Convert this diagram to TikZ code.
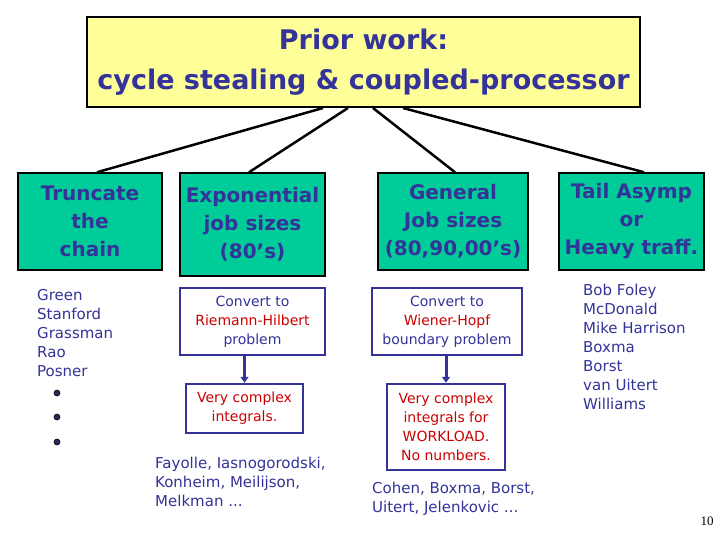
\documentclass[tikz,border=0pt]{standalone}
\usepackage{fontspec}
\setmainfont{DejaVu Sans}
\newfontfamily\pageNumFont{Liberation Serif}
\usepackage{tikz}
\usetikzlibrary{arrows.meta, positioning, calc}
\usepackage{xcolor}
\definecolor{slideBlue}{RGB}{51, 51, 153}
\definecolor{slideRed}{RGB}{204, 0, 0}
\definecolor{titleYellow}{RGB}{255, 255, 153}
\definecolor{topicTeal}{RGB}{0, 204, 153}
\definecolor{dotNavy}{RGB}{40, 40, 90}

\begin{document}
\begin{tikzpicture}[
        x=1pt, y=-1pt,
        titleNode/.style={rectangle, draw=black, fill=titleYellow, text=slideBlue, line width=2pt, minimum width=553pt, minimum height=90pt, align=center, font=\bfseries\fontsize{27}{40}\selectfont},
        topicBox/.style={rectangle, draw=black, fill=topicTeal, text=slideBlue, line width=1.5pt, minimum height=97pt, inner sep=0pt, align=center, font=\bfseries\fontsize{20}{28}\selectfont},
        convBox/.style={rectangle, draw=slideBlue, fill=white, text=slideBlue, line width=2.5pt, inner sep=0pt, align=center, font=\fontsize{14}{19}\selectfont},
        nameList/.style={anchor=north west, align=left, inner sep=0pt, text=slideBlue, font=\fontsize{15}{19}\selectfont},
        listDot/.style={circle, draw=black, fill=dotNavy, inner sep=0pt, minimum size=6pt, line width=0.6pt},
        connLine/.style={line width=2.5pt, black},
        flowArrow/.style={-{Triangle[length=6pt, width=8pt]}, line width=3pt, slideBlue}
    ]
        \useasboundingbox (0,0) rectangle (720,540);

        \node[titleNode] (title) at (363.5,62) {Prior work:\\cycle stealing \& coupled-processor};

        \node[topicBox, minimum width=144pt] (trunc) at (90,221.5) {Truncate\\the\\chain};
        \node[topicBox, minimum width=145pt, minimum height=103pt] (expo) at (252.5,224.5) {Exponential\\job sizes\\(80's)};
        \node[topicBox, minimum width=150pt] (general) at (453,221.5) {General\\Job sizes\\(80,90,00's)};
        \node[topicBox, minimum width=145pt] (tail) at (631.5,221.5) {Tail Asymp\\or\\Heavy traff.};

        \node[convBox, minimum width=145pt, minimum height=67pt] (riemann) at (252.5,321.5) {Convert to\\\textcolor{slideRed}{Riemann-Hilbert}\\problem};
        \node[convBox, minimum width=150pt, minimum height=67pt] (wiener) at (447,321.5) {Convert to\\\textcolor{slideRed}{Wiener-Hopf}\\boundary problem};
        \node[convBox, text=slideRed, minimum width=117pt, minimum height=49pt] (integA) at (244.5,408.5) {Very complex\\integrals.};
        \node[convBox, text=slideRed, minimum width=118pt, minimum height=86pt] (integB) at (446,427) {Very complex\\integrals for\\WORKLOAD.\\No numbers.};

        \node[nameList] (chainNames) at (37,289) {Green\\Stanford\\Grassman\\Rao\\Posner};
        \foreach \i/\y in {1/393, 2/417, 3/442}
            \node[listDot] (dot\i) at (57,\y) {};
        \node[nameList] (rhNames) at (155,457) {Fayolle, Iasnogorodski,\\Konheim, Meilijson,\\Melkman ...};
        \node[nameList] (whNames) at (372,482) {Cohen, Boxma, Borst,\\Uitert, Jelenkovic ...};
        \node[nameList] (tailNames) at (583,284) {Bob Foley\\McDonald\\Mike Harrison\\Boxma\\Borst\\van Uitert\\Williams};
        \node[font=\pageNumFont\fontsize{13}{15}\selectfont] (pageNum) at (707,521) {10};

        \draw[connLine] ([xshift=-40.5pt]title.south) -- ([xshift=7pt]trunc.north);
        \draw[connLine] ([xshift=-15.5pt]title.south) -- ([xshift=-3.5pt]expo.north);
        \draw[connLine] ([xshift=9.5pt]title.south) -- ([xshift=2pt]general.north);
        \draw[connLine] ([xshift=39.5pt]title.south) -- ([xshift=12.5pt]tail.north);

        \draw[flowArrow] (riemann.south -| integA.north) -- (integA.north);
        \draw[flowArrow] (wiener.south -| integB.north) -- (integB.north);
    \end{tikzpicture}
\end{document}
